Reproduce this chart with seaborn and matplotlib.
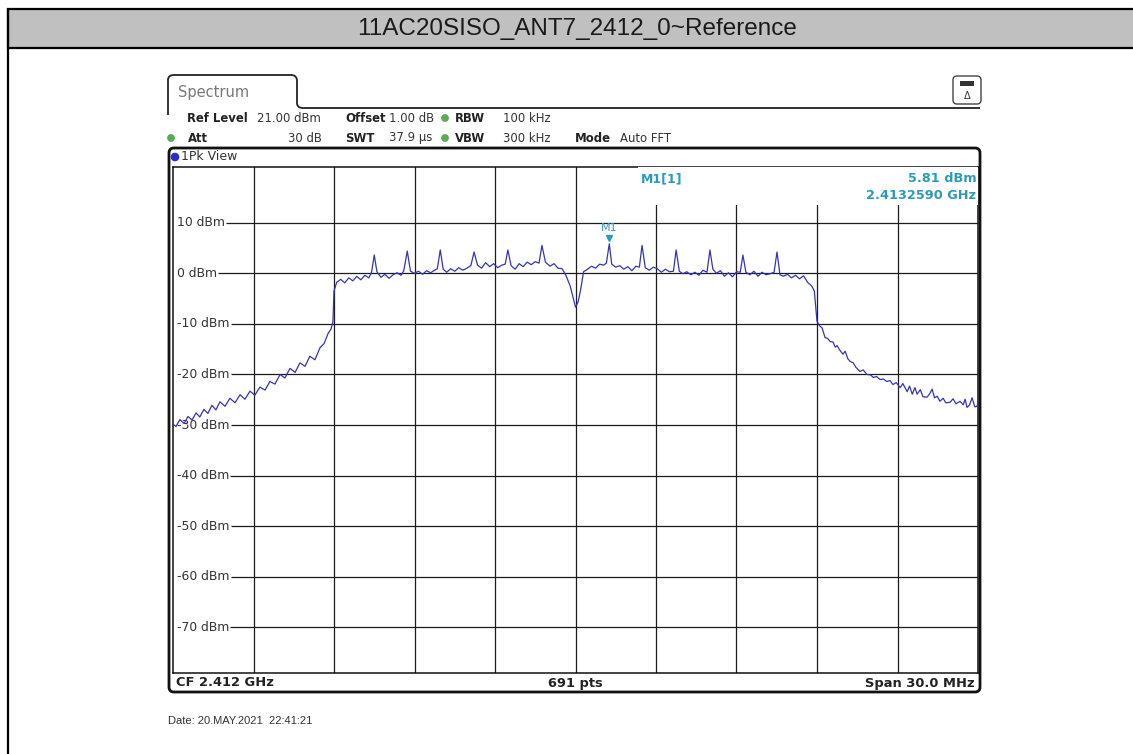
import numpy as np
import pandas as pd
import matplotlib
matplotlib.use("Agg")
import matplotlib.pyplot as plt
import matplotlib.transforms as mtransforms
from matplotlib.patches import FancyBboxPatch, Rectangle, Circle
from matplotlib.path import Path
from matplotlib.patches import PathPatch
import seaborn as sns

# ---------------- data ----------------
title = "11AC20SISO_ANT7_2412_0~Reference"
center_ghz = 2.412
span_mhz = 30.0
ref_level_dbm = 21.0
bottom_level_dbm = -79.0
n_points_label = "691 pts"
marker_freq_ghz = 2.4132590
marker_level_dbm = 5.81

ytick_levels = [10, 0, -10, -20, -30, -40, -50, -60, -70]
ytick_labels = ["10 dBm", "0 dBm", "-10 dBm", "-20 dBm", "-30 dBm",
                "-40 dBm", "-50 dBm", "-60 dBm", "-70 dBm"]
xgrid_offsets_mhz = [-12, -9, -6, -3, 0, 3, 6, 9, 12]

left_skirt_mhz = [-15.00, -14.89, -14.74, -14.59, -14.44, -14.29, -14.14, -14.00, -13.85, -13.70,
                  -13.55, -13.40, -13.25, -13.06, -12.88, -12.69, -12.50, -12.32, -12.13, -11.95,
                  -11.76, -11.57, -11.39, -11.20, -11.01, -10.83, -10.64, -10.45, -10.27, -10.08,
                  -9.90, -9.71, -9.52, -9.37, -9.22, -9.11, -9.04]
left_skirt_dbm = [-29.8, -30.3, -28.9, -29.7, -28.3, -29.0, -27.6, -28.4, -26.9, -27.7,
                  -26.1, -27.0, -25.4, -26.3, -24.7, -25.6, -24.0, -24.9, -23.3, -24.1,
                  -22.5, -23.1, -21.4, -21.9, -20.0, -20.7, -18.8, -19.6, -17.7, -18.4,
                  -16.4, -17.1, -14.7, -13.9, -11.9, -11.0, -9.6]

inband_mhz = [-9.00, -8.90, -8.75, -8.60, -8.45, -8.30, -8.15, -8.00, -7.85, -7.70,
              -7.60, -7.50, -7.40, -7.25, -7.10, -6.95, -6.80, -6.65, -6.50, -6.40,
              -6.27, -6.15, -6.00, -5.85, -5.70, -5.55, -5.40, -5.25, -5.15, -5.04,
              -4.93, -4.80, -4.65, -4.50, -4.35, -4.20, -4.05, -3.90, -3.78, -3.65,
              -3.50, -3.35, -3.20, -3.05, -2.90, -2.75, -2.62, -2.52, -2.40, -2.25,
              -2.10, -1.95, -1.80, -1.65, -1.50, -1.36, -1.25, -1.12, -0.95, -0.80,
              -0.65, -0.50, -0.35, -0.20, -0.08, 0.00, 0.10, 0.20, 0.30, 0.45,
              0.60, 0.75, 0.90, 1.05, 1.15, 1.259, 1.35, 1.50, 1.65, 1.80,
              1.95, 2.10, 2.25, 2.38, 2.48, 2.60, 2.75, 2.90, 3.05, 3.20,
              3.35, 3.50, 3.65, 3.75, 3.87, 4.00, 4.15, 4.30, 4.45, 4.60,
              4.75, 4.90, 5.01, 5.12, 5.25, 5.40, 5.55, 5.70, 5.85, 6.00,
              6.14, 6.24, 6.35, 6.50, 6.65, 6.80, 6.95, 7.10, 7.25, 7.40,
              7.51, 7.62, 7.75, 7.90, 8.05, 8.20, 8.35, 8.50, 8.65, 8.80, 8.90]
inband_dbm = [-3.5, -1.8, -1.2, -1.9, -0.9, -1.5, -0.6, -1.3, -0.4, -0.9,
              0.2, 3.6, 0.3, -0.8, -0.2, -1.0, -0.3, 0.1, -0.4, 0.5,
              4.4, 0.4, 0.0, 0.4, -0.2, 0.5, 0.1, 0.6, 0.9, 4.6,
              0.8, 0.2, 0.9, 0.4, 1.1, 0.6, 1.0, 1.5, 4.2, 1.6,
              1.0, 2.1, 1.3, 1.9, 1.1, 1.6, 1.8, 4.6, 1.5, 0.8,
              1.9, 1.3, 2.2, 1.7, 2.3, 2.0, 5.5, 2.2, 1.4, 1.9,
              1.0, 0.9, -0.5, -2.5, -5.0, -6.7, -5.6, -3.0, 0.3, 0.8,
              1.4, 1.0, 1.8, 1.6, 2.0, 5.81, 1.8, 1.2, 1.5, 0.8,
              1.3, 0.5, 1.4, 1.2, 5.5, 1.1, 0.6, 1.2, 0.9, 0.2,
              0.8, 0.3, 0.4, 4.6, 0.4, -0.1, 0.3, -0.3, 0.2, -0.4,
              0.6, 0.2, 4.6, 0.8, 0.0, 0.5, -0.6, 0.1, -0.7, 0.3,
              0.2, 3.6, 0.2, -0.3, 0.4, -0.6, 0.2, -0.3, -0.1, 0.2,
              4.2, -0.3, -0.6, -0.2, -0.9, -0.4, -1.1, -0.5, -1.8, -2.5, -3.5]

right_skirt_mhz = [9.00, 9.10, 9.19, 9.30, 9.40, 9.49, 9.60, 9.68, 9.75, 9.85,
                   9.97, 10.05, 10.15, 10.23, 10.35, 10.45, 10.60, 10.72, 10.86, 11.00,
                   11.10, 11.22, 11.35, 11.48, 11.60, 11.72, 11.83, 11.95, 12.10, 12.20,
                   12.36, 12.45, 12.55, 12.65, 12.73, 12.85, 12.95, 13.10, 13.20, 13.29,
                   13.38, 13.48, 13.58, 13.70, 13.80, 13.96, 14.07, 14.18, 14.33, 14.45,
                   14.52, 14.59, 14.68, 14.78, 14.88, 14.96, 15.00]
right_skirt_dbm = [-9.5, -10.4, -10.8, -12.7, -12.9, -13.5, -13.6, -14.6, -14.3, -15.2,
                   -16.0, -15.4, -16.9, -17.4, -17.7, -18.6, -19.4, -19.1, -20.0, -20.1,
                   -20.6, -20.4, -21.0, -20.9, -21.4, -21.2, -22.0, -21.6, -22.6, -21.8,
                   -23.4, -22.3, -23.9, -22.6, -23.9, -23.0, -24.4, -24.5, -23.8, -22.9,
                   -24.6, -24.3, -25.3, -24.7, -25.6, -25.5, -24.8, -25.8, -25.3, -26.0,
                   -24.9, -26.5, -26.1, -24.6, -26.4, -26.3, -25.6]

# ---------------- figure ----------------
W, H = 1133, 754
sns.set_style("white")
plt.rcParams['font.family'] = ['DejaVu Sans']

fig = plt.figure(figsize=(W / 100, H / 100), dpi=100)

# background overlay in pixel coordinates
bg = fig.add_axes([0, 0, 1, 1])
bg.set_xlim(0, W)
bg.set_ylim(H, 0)
bg.axis('off')

# title band and outer border
bg.add_patch(Rectangle((8, 9), W, 39, facecolor='#c0c0c0', edgecolor='black', lw=1.6))
bg.plot([8, 8], [9, H], color='black', lw=1.6)
bg.text(577, 29, title, ha='center', va='center', fontsize=17.5,
        family=['Liberation Sans', 'DejaVu Sans'], color='#1a1a1a')

# spectrum tab + header separator line
tab = Path([(168, 115), (168, 80), (168, 75), (174, 75), (291, 75), (297, 75), (297, 81),
            (297, 103), (297, 108), (303, 108), (980, 108)],
           [Path.MOVETO, Path.LINETO, Path.CURVE3, Path.CURVE3, Path.LINETO, Path.CURVE3,
            Path.CURVE3, Path.LINETO, Path.CURVE3, Path.CURVE3, Path.LINETO])
bg.add_patch(PathPatch(tab, facecolor='none', edgecolor='#222', lw=1.3))
bg.text(178, 92, "Spectrum", fontsize=10.5, color='#777', va='center')

# top-right icon
bg.add_patch(FancyBboxPatch((953, 76), 28, 28, boxstyle="round,pad=0,rounding_size=4",
                            facecolor='white', edgecolor='#444', lw=1.0))
bg.add_patch(Rectangle((960, 81), 14, 5, facecolor='#333', edgecolor='none'))
bg.text(967, 96, "Δ", fontsize=7, ha='center', va='center', color='#333')

# header rows
fs_h = 8.4
hdr = dict(fontsize=fs_h, va='center')
green = '#5aaa5a'
bg.text(187, 118, "Ref Level", fontweight='bold', color='#222', **hdr)
bg.text(257, 118, "21.00 dBm", color='#333', **hdr)
bg.text(345, 118, "Offset", fontweight='bold', color='#222', **hdr)
bg.text(389, 118, "1.00 dB", color='#333', **hdr)
bg.add_patch(Circle((445, 118), 3.2, color=green))
bg.text(455, 118, "RBW", fontweight='bold', color='#222', **hdr)
bg.text(503, 118, "100 kHz", color='#333', **hdr)

bg.add_patch(Circle((171, 138), 3.2, color=green))
bg.text(188, 138, "Att", fontweight='bold', color='#222', **hdr)
bg.text(322, 138, "30 dB", color='#333', ha='right', fontsize=fs_h, va='center')
bg.text(345, 138, "SWT", fontweight='bold', color='#222', **hdr)
bg.text(389, 138, "37.9 µs", color='#333', **hdr)
bg.add_patch(Circle((445, 138), 3.2, color=green))
bg.text(455, 138, "VBW", fontweight='bold', color='#222', **hdr)
bg.text(503, 138, "300 kHz", color='#333', **hdr)
bg.text(575, 139, "Mode", fontweight='bold', color='#222', **hdr)
bg.text(620, 139, "Auto FFT", color='#333', **hdr)

# inner frame
bg.add_patch(FancyBboxPatch((169, 148), 811, 544, boxstyle="round,pad=0,rounding_size=5",
                            facecolor='white', edgecolor='#111', lw=2.0))
bg.add_patch(Circle((175, 157), 3.6, color='#2a2ad0'))
bg.text(181, 157, "1Pk View", fontsize=9, color='#333', va='center')

# bottom strip
bot = dict(fontsize=9.4, fontweight='bold', color='#222', va='center')
bg.text(176, 683, "CF %.3f GHz" % center_ghz, ha='left', **bot)
bg.text(575, 683, n_points_label, ha='center', **bot)
bg.text(975, 683, "Span %.1f MHz" % span_mhz, ha='right', **bot)

bg.text(168, 721, "Date: 20.MAY.2021  22:41:21", fontsize=8, color='#333', va='center',
        family=['Liberation Sans', 'DejaVu Sans'])

# ---------------- main spectrum axes ----------------
ax_l, ax_r, ax_t, ax_b = 173, 978, 167, 673
ax = fig.add_axes([ax_l / W, 1 - ax_b / H, (ax_r - ax_l) / W, (ax_b - ax_t) / H])
ax.set_zorder(2)
ax.set_facecolor('white')

freq_ghz = center_ghz + np.array(left_skirt_mhz + inband_mhz + right_skirt_mhz) / 1000.0
level = np.array(left_skirt_dbm + inband_dbm + right_skirt_dbm)
df = pd.DataFrame({"freq": freq_ghz, "level": level})

sns.lineplot(data=df, x="freq", y="level", ax=ax, color='#3434b8', lw=0.9,
             sort=False, estimator=None, zorder=4)

ax.set_xlim(center_ghz - span_mhz / 2000, center_ghz + span_mhz / 2000)
ax.set_ylim(bottom_level_dbm, ref_level_dbm)
ax.set_xticks([])
ax.set_yticks([])
ax.set_xlabel("")
ax.set_ylabel("")
for s in ax.spines.values():
    s.set_color('#111')
    s.set_linewidth(1.1)

for off in xgrid_offsets_mhz:
    ax.axvline(center_ghz + off / 1000.0, color='#1c1c1c', lw=0.9, zorder=1)

ylab_trans = mtransforms.blended_transform_factory(ax.transAxes, ax.transData)
labels = []
for lv, lab in zip(ytick_levels, ytick_labels):
    t = ax.text(0.005, lv, lab, transform=ylab_trans, fontsize=8.9, color='#333',
                ha='left', va='center', zorder=3)
    labels.append((lv, t))

fig.canvas.draw()
renderer = fig.canvas.get_renderer()
x_right = center_ghz + span_mhz / 2000
for lv, t in labels:
    bb = t.get_window_extent(renderer)
    x0 = ax.transData.inverted().transform((bb.x1 + 1, 0))[0]
    ax.hlines(lv, x0, x_right, color='#1c1c1c', lw=0.9, zorder=1)

# marker readout box (covers grid at top right)
ax.add_patch(Rectangle((0.578, 0.925), 0.43, 0.08, transform=ax.transAxes,
                       facecolor='white', edgecolor='none', zorder=3))
teal = '#2a9cb8'
ax.text(0.581, 0.977, "M1[1]", transform=ax.transAxes, fontsize=9, fontweight='bold',
        color=teal, ha='left', va='center', zorder=5)
ax.text(0.998, 0.977, "%.2f dBm" % marker_level_dbm, transform=ax.transAxes, fontsize=9.3,
        fontweight='bold', color=teal, ha='right', va='center', zorder=5)
ax.text(0.998, 0.943, "%.7f GHz" % marker_freq_ghz, transform=ax.transAxes, fontsize=9.3,
        fontweight='bold', color=teal, ha='right', va='center', zorder=5)

# marker M1
mk_trans = mtransforms.offset_copy(ax.transData, fig=fig, x=0, y=4, units='points')
ax.plot([marker_freq_ghz], [marker_level_dbm], marker='v', ms=5, color=teal,
        transform=mk_trans, zorder=6, linestyle='none')
lab_trans = mtransforms.offset_copy(ax.transData, fig=fig, x=0, y=8, units='points')
ax.text(marker_freq_ghz, marker_level_dbm, "M1", transform=lab_trans, fontsize=8,
        color=teal, ha='center', va='bottom', zorder=6)

fig.savefig("out.png", dpi=100)
